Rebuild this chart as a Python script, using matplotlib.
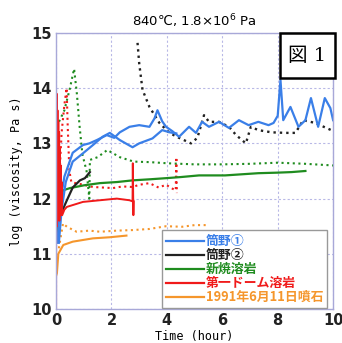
import matplotlib
matplotlib.use("Agg")
import matplotlib.pyplot as plt
from matplotlib.lines import Line2D
from matplotlib.patches import Rectangle

# ---- data (time in hours, log viscosity) ----
blue_a_x = [0.05, 0.14, 0.3, 0.6, 0.97, 1.2, 1.47, 1.83, 2.1, 2.3, 2.65, 3.0, 3.37, 3.55, 3.66, 3.83, 3.97, 4.2, 4.44,
            4.8, 5.05, 5.27, 5.52, 5.88, 6.24, 6.6, 6.95, 7.3, 7.67, 7.85, 8.0, 8.1, 8.2, 8.46, 8.75, 9.0, 9.2,
            9.46, 9.7, 9.9, 10.0]
blue_a_y = [11.2, 11.9, 12.4, 12.83, 12.97, 13.0, 13.06, 13.15, 13.1, 13.2, 13.3, 13.33, 13.3, 13.45, 13.6, 13.4, 13.3,
            13.22, 13.12, 13.3, 13.19, 13.39, 13.3, 13.39, 13.28, 13.42, 13.33, 13.39, 13.33, 13.37, 13.5, 14.15,
            13.42, 13.66, 13.3, 13.42, 13.82, 13.3, 13.82, 13.64, 13.42]
blue_b_x = [0.1, 0.2, 0.35, 0.6, 0.97, 1.33, 1.68, 1.94, 2.3, 2.76, 3.0, 3.48, 3.83, 4.1, 4.34]
blue_b_y = [11.2, 11.8, 12.3, 12.67, 12.82, 12.97, 13.12, 13.19, 13.06, 12.93, 13.0, 13.09, 13.24, 13.2, 13.18]

black_dot_x = [2.94, 3.0, 3.12, 3.37, 3.73, 4.09, 4.44, 4.87, 5.1, 5.34, 5.52, 5.88, 6.24, 6.5, 6.85, 7.03, 7.3, 7.78,
               8.28, 8.64, 8.92, 9.35, 9.93]
black_dot_y = [14.82, 14.45, 13.97, 13.66, 13.37, 13.19, 13.1, 13.0, 13.1, 13.51, 13.39, 13.39, 13.3, 13.15, 13.0,
               13.3, 13.24, 13.2, 13.19, 13.19, 13.42, 13.37, 13.24]
black_x = [0.15, 0.39, 0.6, 0.86, 1.04, 1.22]
black_y = [11.7, 11.97, 12.2, 12.33, 12.37, 12.48]

green_x = [0.03, 0.12, 0.25, 0.5, 1.0, 1.58, 2.2, 2.76, 3.4, 3.97, 4.5, 5.16, 6.1, 6.7, 7.3, 8.0, 8.5, 9.0]
green_y = [11.4, 11.9, 12.15, 12.19, 12.24, 12.28, 12.3, 12.33, 12.35, 12.37, 12.39, 12.42, 12.42, 12.44, 12.46,
           12.47, 12.48, 12.5]
green_dot_x = [0.02, 0.3, 0.5, 0.65, 0.75, 0.85, 0.95, 1.1, 1.2, 1.22, 1.33, 1.5, 1.85, 2.3, 2.8, 3.4, 4.0, 5.0, 6.0,
               7.0, 8.0, 9.0, 10.0]
green_dot_y = [13.3, 13.6, 14.0, 14.35, 13.9, 13.3, 12.8, 12.5, 12.0, 12.7, 12.72, 12.75, 12.88, 12.75, 12.67, 12.66,
               12.64, 12.62, 12.62, 12.63, 12.65, 12.63, 12.6]

red_x = [0.0, 0.0, 0.02, 0.03, 0.05, 0.06, 0.08, 0.09, 0.11, 0.12, 0.14, 0.15, 0.17, 0.18, 0.2, 0.22, 0.3, 0.39,
         0.97, 1.58, 2.19, 2.65, 2.76, 2.77, 2.79, 2.8]
red_y = [10.0, 11.3, 13.9, 11.5, 13.6, 11.6, 13.4, 11.7, 13.2, 11.6, 12.9, 11.7, 12.6, 11.7, 12.3, 11.7, 11.8, 11.85,
         11.94, 11.97, 12.0, 11.97, 11.95, 12.64, 11.7, 11.95]
red_dot_x = [0.1, 0.2, 0.3, 0.38, 0.42, 0.48, 0.55, 0.7, 1.0, 1.33, 1.7, 2.05, 2.4, 2.76, 3.0, 3.37, 3.7, 3.97, 4.2,
             4.32, 4.34, 4.36]
red_dot_y = [12.2, 13.2, 13.7, 14.0, 13.3, 12.5, 12.3, 12.28, 12.25, 12.21, 12.2, 12.19, 12.22, 12.21, 12.25, 12.28,
             12.2, 12.25, 12.18, 12.15, 12.75, 12.1]

orange_x = [0.0, 0.03, 0.08, 0.26, 0.6, 1.33, 1.94, 2.54]
orange_y = [10.6, 10.65, 11.0, 11.16, 11.22, 11.28, 11.3, 11.33]
orange_dot_x = [0.1, 0.25, 0.39, 0.74, 1.2, 1.58, 2.2, 2.76, 3.37, 3.97, 4.55, 5.0, 5.52]
orange_dot_y = [11.1, 11.55, 11.49, 11.4, 11.42, 11.4, 11.42, 11.43, 11.45, 11.5, 11.49, 11.52, 11.52]

legend_labels = ["筒野①", "筒野②", "新焼溶岩", "第一ドーム溶岩", "1991年6月11日噴石"]
x_ticks = [0, 2, 4, 6, 8, 10]
y_ticks = [10, 11, 12, 13, 14, 15]

# ---- colours ----
C_BLUE = "#3a7fe8"
C_BLACK = "#222222"
C_GREEN = "#1f8c1f"
C_RED = "#f01a1a"
C_ORANGE = "#f5962c"

fig = plt.figure(figsize=(3.42, 3.43), dpi=100)
ax = fig.add_axes([0.164, 0.099, 0.81, 0.805])

dot = (0, (1, 1.7))
ax.plot(orange_dot_x, orange_dot_y, color=C_ORANGE, lw=1.5, ls=dot)
ax.plot(orange_x, orange_y, color=C_ORANGE, lw=1.5)
ax.plot(red_dot_x, red_dot_y, color=C_RED, lw=1.5, ls=dot)
ax.plot(green_dot_x, green_dot_y, color=C_GREEN, lw=1.5, ls=dot)
ax.plot(black_dot_x, black_dot_y, color=C_BLACK, lw=1.7, ls=dot)
ax.plot(green_x, green_y, color=C_GREEN, lw=1.6)
ax.plot(black_x, black_y, color=C_BLACK, lw=1.6)
ax.plot(blue_b_x, blue_b_y, color=C_BLUE, lw=1.6)
ax.plot(blue_a_x, blue_a_y, color=C_BLUE, lw=1.6)
ax.plot(red_x, red_y, color=C_RED, lw=1.4)

ax.set_xlim(0, 10)
ax.set_ylim(10, 15)
ax.set_xticks(x_ticks)
ax.set_yticks(y_ticks)
ax.tick_params(length=0, labelsize=10.5, pad=3)
for lab in ax.get_xticklabels() + ax.get_yticklabels():
    lab.set_fontweight("bold")
    lab.set_color("#222222")
ax.grid(True, ls=(0, (2, 2)), color="#b8b8e6", lw=0.8)
for s in ax.spines.values():
    s.set_color("#a8a8d8")
    s.set_linewidth(1.0)

mono = ["DejaVu Sans Mono"]
ax.set_xlabel("Time (hour)", family=mono, fontsize=8.5, labelpad=1)
ax.set_ylabel("log (viscosity, Pa s)", family=mono, fontsize=8.5, labelpad=6)
ax.set_title("840℃, 1.8×10$^6$ Pa", fontsize=9.5, pad=5)

# figure label box
ax.add_patch(Rectangle((0.809, 0.837), 0.197, 0.163, transform=ax.transAxes, fc="white", ec="black",
                       lw=1.8, clip_on=False, zorder=5))
ax.text(0.907, 0.918, "図 1", transform=ax.transAxes, ha="center", va="center",
        family=["DejaVu Serif", "Noto Sans CJK JP"], fontsize=14, zorder=6)

handles = [Line2D([], [], color=c, lw=1.6) for c in [C_BLUE, C_BLACK, C_GREEN, C_RED, C_ORANGE]]
leg = ax.legend(handles, legend_labels, loc="lower right", bbox_to_anchor=(0.978, 0.004),
                prop={"family": ["Noto Sans CJK JP", "DejaVu Sans"], "size": 9.3, "weight": "bold"},
                labelcolor=[C_BLUE, C_BLACK, C_GREEN, C_RED, C_ORANGE],
                handlelength=2.9, handletextpad=0.15, labelspacing=0.0, borderpad=0.3,
                fancybox=False, framealpha=1, edgecolor="#999999", borderaxespad=0.0)
leg.get_frame().set_linewidth(1.0)

fig.savefig("out.png", dpi=100)
